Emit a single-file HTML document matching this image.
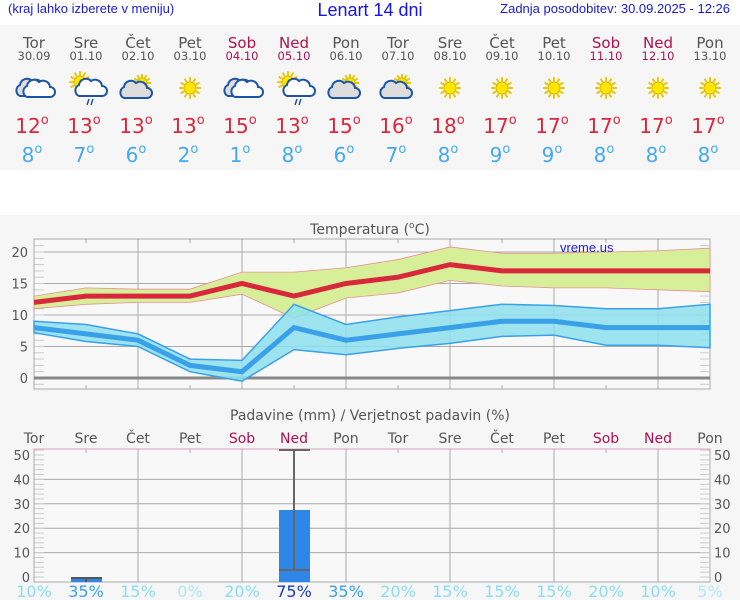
<!DOCTYPE html>
<html><head><meta charset="utf-8"><style>
html,body{margin:0;padding:0;background:#fff;}
svg{display:block;font-family:"DejaVu Sans","Liberation Sans",sans-serif;}
</style></head><body>
<svg id="s" width="740" height="600" xmlns="http://www.w3.org/2000/svg">
<rect x="0" y="0" width="740" height="600" fill="#fff"/>
<rect x="0" y="25" width="740" height="145" fill="#f6f6f6"/>
<rect x="0" y="215" width="740" height="385" fill="#f6f6f6"/>
<text x="8" y="13" font-family="Liberation Sans" font-size="13" fill="#1a1acc">(kraj lahko izberete v meniju)</text>
<text x="370" y="16" text-anchor="middle" font-family="Liberation Sans" font-size="18" fill="#1414e6">Lenart 14 dni</text>
<text x="730" y="13" text-anchor="end" font-family="Liberation Sans" font-size="13" fill="#1a1acc">Zadnja posodobitev: 30.09.2025 - 12:26</text>
<g id="g"></g>
</svg>
<script>
const g=document.getElementById('g');let h='';
const X=i=>34+52*i;
const days=['Tor','Sre','Čet','Pet','Sob','Ned','Pon','Tor','Sre','Čet','Pet','Sob','Ned','Pon'];
const dates=['30.09','01.10','02.10','03.10','04.10','05.10','06.10','07.10','08.10','09.10','10.10','11.10','12.10','13.10'];
const wk=i=>(i==4||i==5||i==11||i==12);
const mx=[12,13,13,13,15,13,15,16,18,17,17,17,17,17],mn=[8,7,6,2,1,8,6,7,8,9,9,8,8,8];
const icons=['c','r','pc','s','c','r','pc','pc','s','s','s','s','s','s'];
function sun(x,y,r){let s='';for(let k=0;k<12;k++){const a=k*Math.PI/6;s+=`<line x1="${x+Math.cos(a)*r*1.1}" y1="${y+Math.sin(a)*r*1.1}" x2="${x+Math.cos(a)*r*1.8}" y2="${y+Math.sin(a)*r*1.8}" stroke="#e8c800" stroke-width="2"/>`;}
return s+`<circle cx="${x}" cy="${y}" r="${r}" fill="#ffe600" stroke="#e0b000" stroke-width="1"/>`;}
function cloud(x,y,f){return `<g fill="${f}" stroke="#1b55a8" stroke-width="2"><path d="M${x-12} ${y+8} a6 6 0 0 1 0-11 a7 7 0 0 1 12-4 a7 7 0 0 1 11 5 a5 5 0 0 1 0 10 z"/></g>`;}
for(let i=0;i<14;i++){const x=X(i),c=wk(i)?'#b0104f':'#555';
h+=`<text x="${x}" y="48" text-anchor="middle" font-size="15" fill="${c}">${days[i]}</text>`;
h+=`<text x="${x}" y="60" text-anchor="middle" font-size="11.5" fill="${wk(i)?'#b0104f':'#555'}">${dates[i]}</text>`;
const t=icons[i],y=88;
if(t=='s')h+=sun(x,y,6);
else if(t=='c')h+=cloud(x-2,y,'#ddd')+cloud(x+5,y+1,'#fff');
else if(t=='pc')h+=sun(x+4,y-5,5)+cloud(x-2,y+2,'#ddd');
else h+=sun(x-6,y-6,6)+cloud(x+5,y,'#fff')+`<line x1="${x+3}" y1="${y+11}" x2="${x+1}" y2="${y+17}" stroke="#1b55a8" stroke-width="1.5"/><line x1="${x+7}" y1="${y+11}" x2="${x+5}" y2="${y+17}" stroke="#1b55a8" stroke-width="1.5"/>`;
h+=`<text x="${x-2}" y="133" text-anchor="middle" font-size="20" fill="#d9283c">${mx[i]}<tspan font-size="13" dy="-9">o</tspan></text>`;
h+=`<text x="${x-2}" y="162" text-anchor="middle" font-size="20" fill="#44aaee">${mn[i]}<tspan font-size="13" dy="-9">o</tspan></text>`;}
// temperature chart
const T=t=>378-6.3*t;
h+=`<text x="370" y="234" text-anchor="middle" font-size="14" fill="#555">Temperatura (<tspan font-size="9" dy="-6">o</tspan><tspan dy="6">C)</tspan></text>`;
h+=`<rect x="34" y="239" width="676" height="150" fill="#f8f8f8" stroke="#aaa"/>`;
for(let v=0;v<=20;v+=5){h+=`<line x1="34" x2="710" y1="${T(v)}" y2="${T(v)}" stroke="#aaa"/><text x="28" y="${T(v)+5}" text-anchor="end" font-size="13" fill="#555">${v}</text>`;}
for(let v=-1;v<=22;v++){h+=`<line x1="34" x2="44" y1="${T(v)}" y2="${T(v)}" stroke="#ccc"/><line x1="700" x2="710" y1="${T(v)}" y2="${T(v)}" stroke="#ccc"/>`;}
for(let i=0;i<14;i++){h+=i%2==0?`<line x1="${X(i)}" x2="${X(i)}" y1="239" y2="389" stroke="#aaa"/>`:`<line x1="${X(i)}" x2="${X(i)}" y1="239" y2="243" stroke="#aaa"/><line x1="${X(i)}" x2="${X(i)}" y1="385" y2="389" stroke="#aaa"/>`;}
const mxU=[13,14.3,14.1,14.1,16.8,16.8,17.5,18.8,20.8,19.8,19.8,20,20.2,20.6],mxL=[11,11.7,12,12,13.3,9.5,12.7,13.5,15.5,14.6,14.3,14.3,14,13.7];
const mnU=[9,8.5,7,3,2.8,11.7,8.5,9.7,10.7,11.7,11.5,11,11,11.7],mnL=[7.2,5.8,5,1,-0.5,4.5,3.7,4.7,5.5,6.6,6.8,5.2,5.2,4.8];
const poly=(u,l)=>u.map((v,i)=>X(i)+','+T(v)).join(' ')+' '+l.map((v,i)=>X(i)+','+T(v)).reverse().join(' ');
const line=a=>a.map((v,i)=>X(i)+','+T(v)).join(' ');
h+=`<line x1="34" x2="710" y1="${T(0)}" y2="${T(0)}" stroke="#888" stroke-width="3"/>`;
h+=`<polygon points="${poly(mxU,mxL)}" fill="#d8ef9a" stroke="#e89090" stroke-width="0.8"/>`;
h+=`<polygon points="${poly(mnU,mnL)}" fill="#8ee0ee" fill-opacity="0.85" stroke="#3aa0e8" stroke-width="1.5"/>`;
h+=`<polyline points="${line(mx)}" fill="none" stroke="#d9283c" stroke-width="5"/>`;
h+=`<polyline points="${line(mn)}" fill="none" stroke="#3aa0e8" stroke-width="5"/>`;
h+=`<text x="560" y="252" font-family="Liberation Sans" font-size="13" fill="#1a1aee">vreme.us</text>`;
// precip chart
const P=p=>577-2.44*p;
h+=`<text x="370" y="420" text-anchor="middle" font-size="14" fill="#555">Padavine (mm) / Verjetnost padavin (%)</text>`;
h+=`<rect x="34" y="449" width="676" height="133" fill="#f8f8f8" stroke="#aaa"/><line x1="34" x2="710" y1="449" y2="449" stroke="#e0a0c0"/>`;
for(let v=10;v<=40;v+=10)h+=`<line x1="34" x2="710" y1="${P(v)}" y2="${P(v)}" stroke="#aaa"/>`;
for(let v=0;v<=50;v+=10)h+=`<text x="30" y="${P(v)+5}" text-anchor="end" font-size="13" fill="#555">${v}</text><text x="714" y="${P(v)+5}" font-size="13" fill="#555">${v}</text>`;
for(let v=0;v<=52;v+=2)h+=`<line x1="34" x2="44" y1="${P(v)}" y2="${P(v)}" stroke="#ccc"/><line x1="700" x2="710" y1="${P(v)}" y2="${P(v)}" stroke="#ccc"/>`;
const pc=['10%','35%','15%','0%','20%','75%','35%','20%','15%','15%','15%','20%','10%','5%'];
const pcc=['#88ddf4','#3aa0e8','#88ddf4','#a8e8f8','#88ddf4','#1a3acc','#3aa0e8','#88ddf4','#88ddf4','#88ddf4','#88ddf4','#88ddf4','#88ddf4','#b0eaf8'];
for(let i=0;i<14;i++){
h+=`<text x="${X(i)}" y="443" text-anchor="middle" font-size="14" fill="${wk(i)?'#b0104f':'#555'}">${days[i]}</text>`;
h+=i%2==0?`<line x1="${X(i)}" x2="${X(i)}" y1="449" y2="582" stroke="#aaa"/>`:`<line x1="${X(i)}" x2="${X(i)}" y1="449" y2="453" stroke="#aaa"/>`;
h+=`<text x="${X(i)}" y="597" text-anchor="middle" font-size="16" fill="${pcc[i]}">${pc[i]}</text>`;}
h+=`<rect x="71" y="578" width="31" height="4" fill="#2e86e8"/><line x1="71" x2="102" y1="578" y2="578" stroke="#555" stroke-width="2"/><line x1="86" x2="86" y1="578" y2="582" stroke="#555" stroke-width="2"/>`;
h+=`<rect x="279" y="510" width="31" height="72" fill="#2e86e8"/><line x1="294" x2="294" y1="450" y2="570" stroke="#666" stroke-width="2"/><line x1="279" x2="310" y1="450" y2="450" stroke="#666" stroke-width="2"/><line x1="279" x2="310" y1="570" y2="570" stroke="#666" stroke-width="2"/>`;
g.innerHTML=h;
</script>
</body></html>
